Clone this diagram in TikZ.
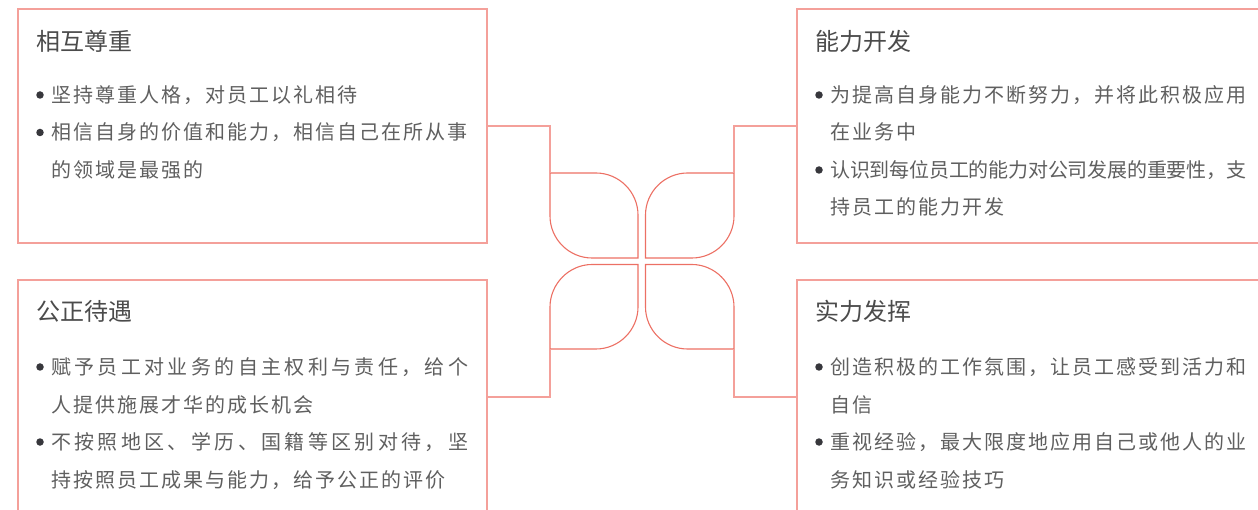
\documentclass[tikz,border=0pt]{standalone}
\usepackage{fontspec}
\newfontfamily\cjktitle{Noto Sans CJK SC}
\newfontfamily\cjkbody[LetterSpace=10]{Noto Sans CJK SC}
\newfontfamily\cjkwide[LetterSpace=16.8]{Noto Sans CJK SC}
\newfontfamily\cjkcond[LetterSpace=-1]{Noto Sans CJK SC}
\definecolor{boxline}{RGB}{244,160,154}
\definecolor{petalline}{RGB}{236,112,100}
\definecolor{titlecol}{RGB}{75,75,75}
\definecolor{bodycol}{RGB}{95,95,95}
\definecolor{dotcol}{RGB}{55,55,60}
\begin{document}
\begin{tikzpicture}[x=1pt,y=-1pt,
  panel/.style={draw=boxline,line width=1.1pt,minimum width=469pt,minimum height=234pt,inner sep=0pt},
  conn/.style={draw=boxline,line width=1.1pt},
  petal/.style={draw=petalline,line width=1.1pt},
  ttl/.style={anchor=base west,inner sep=0pt,text=titlecol,font=\cjktitle\fontsize{24pt}{24pt}\selectfont},
  txt/.style={anchor=base west,inner sep=0pt,text=bodycol,font=\cjkbody\fontsize{20pt}{20pt}\selectfont},
  txtw/.style={anchor=base west,inner sep=0pt,text=bodycol,font=\cjkwide\fontsize{20pt}{20pt}\selectfont},
  txtc/.style={anchor=base west,inner sep=0pt,text=bodycol,font=\cjkcond\fontsize{20pt}{20pt}\selectfont},
  dot/.style={circle,fill=dotcol,inner sep=0pt,minimum size=7.5pt}]
\useasboundingbox (0,0) rectangle (1258,510);
\begin{scope}
\clip (0,0) rectangle (1258,510);
% panels
\node[panel] (tl) at (252.5,126) {};
\node[panel] (tr) at (1031.5,126) {};
\node[panel] (bl) at (252.5,397) {};
\node[panel] (br) at (1031.5,397) {};
\end{scope}
% petals
\coordinate (p1) at (550,173);
\coordinate (p2) at (734,173);
\coordinate (p3) at (550,349);
\coordinate (p4) at (734,349);
\draw[petal] (p1) -- (596,173) .. controls (619,173) and (638,192) .. (638,215) -- (638,258) -- (592,258) .. controls (569,258) and (550,239) .. (550,216) -- cycle;
\draw[petal] (p2) -- (734,216) .. controls (734,239) and (715,258) .. (692,258) -- (645.5,258) -- (645.5,215) .. controls (645.5,192) and (664.5,173) .. (687.5,173) -- cycle;
\draw[petal] (p3) -- (550,307) .. controls (550,284) and (569,264.5) .. (592,264.5) -- (638,264.5) -- (638,307) .. controls (638,330) and (619,349) .. (596,349) -- cycle;
\draw[petal] (p4) -- (687.5,349) .. controls (664.5,349) and (645.5,330) .. (645.5,307) -- (645.5,264.5) -- (692,264.5) .. controls (715,264.5) and (734,284) .. (734,307) -- cycle;
% connectors
\draw[conn] (tl.east) -| (p1);
\draw[conn] (tr.west) -| (p2);
\draw[conn] (bl.east) -| (p3);
\draw[conn] (br.west) -| (p4);
% top-left text
\node[ttl] (tlt) at (36,51) {相互尊重};
\node[dot] (tld1) at (40,95) {};
\node[txt] (tl1) at (51,102.5) {坚持尊重人格，对员工以礼相待};
\node[dot] (tld2) at (40,132.5) {};
\node[txt] (tl2) at (51,140) {相信自身的价值和能力，相信自己在所从事};
\node[txt] (tl3) at (51,177.5) {的领域是最强的};
% top-right text
\node[ttl] (trt) at (815,51) {能力开发};
\node[dot] (trd1) at (819,95) {};
\node[txt] (tr1) at (830,102.5) {为提高自身能力不断努力，并将此积极应用};
\node[txt] (tr2) at (830,140) {在业务中};
\node[dot] (trd2) at (819,170) {};
\node[txtc] (tr3) at (830,177.5) {认识到每位员工的能力对公司发展的重要性，支};
\node[txt] (tr4) at (830,215) {持员工的能力开发};
% bottom-left text
\node[ttl] (blt) at (36,321) {公正待遇};
\node[dot] (bld1) at (40,367) {};
\node[txtw] (bl1) at (51,374.5) {赋予员工对业务的自主权利与责任，给个};
\node[txt] (bl2) at (51,412) {人提供施展才华的成长机会};
\node[dot] (bld2) at (40,442) {};
\node[txtw] (bl3) at (51,449.5) {不按照地区、学历、国籍等区别对待，坚};
\node[txt] (bl4) at (51,487) {持按照员工成果与能力，给予公正的评价};
% bottom-right text
\node[ttl] (brt) at (815,321) {实力发挥};
\node[dot] (brd1) at (819,367) {};
\node[txt] (br1) at (830,374.5) {创造积极的工作氛围，让员工感受到活力和};
\node[txt] (br2) at (830,412) {自信};
\node[dot] (brd2) at (819,442) {};
\node[txt] (br3) at (830,449.5) {重视经验，最大限度地应用自己或他人的业};
\node[txt] (br4) at (830,487) {务知识或经验技巧};
\end{tikzpicture}
\end{document}
